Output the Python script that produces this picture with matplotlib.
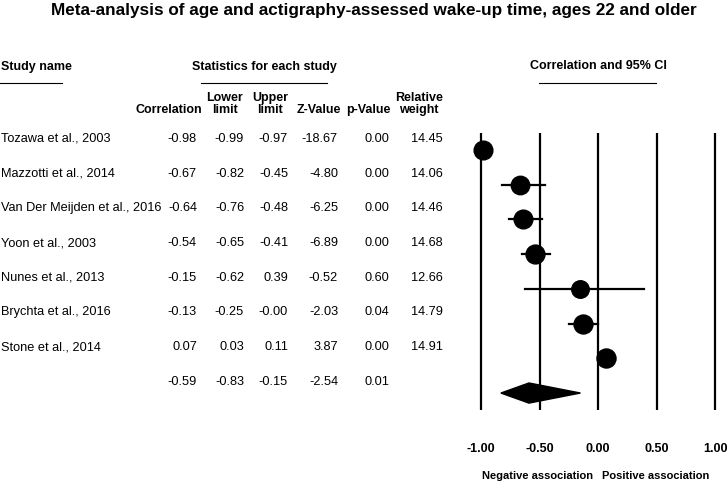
import matplotlib
matplotlib.use('Agg')
import matplotlib.pyplot as plt
from matplotlib.transforms import blended_transform_factory
from matplotlib.patches import Polygon
import numpy as np

plt.rcParams['font.family'] = ['Liberation Sans', 'DejaVu Sans']

# datos
studies = ['Tozawa et al., 2003', 'Mazzotti et al., 2014', 'Van Der Meijden et al., 2016',
           'Yoon et al., 2003', 'Nunes et al., 2013', 'Brychta et al., 2016', 'Stone et al., 2014']
corr = [-0.98, -0.67, -0.64, -0.54, -0.15, -0.13, 0.07]
lower = [-0.99, -0.82, -0.76, -0.65, -0.62, -0.25, 0.03]
upper = [-0.97, -0.45, -0.48, -0.41, 0.39, -0.00, 0.11]
zval = [-18.67, -4.80, -6.25, -6.89, -0.52, -2.03, 3.87]
pval = [0.00, 0.00, 0.00, 0.00, 0.60, 0.04, 0.00]
weight = [14.45, 14.06, 14.46, 14.68, 12.66, 14.79, 14.91]
summary = {'corr': -0.59, 'lower': -0.83, 'upper': -0.15, 'z': -2.54, 'p': 0.01}
ticks = [-1.0, -0.5, 0.0, 0.5, 1.0]

W, H = 727, 484
fig = plt.figure(figsize=(W / 100, H / 100), dpi=100)

def fx(px):
    return px / W

def fy(py):
    return 1 - py / H

# ejes del forest plot: x -1 -> 481px, 1 -> 715px ; filas 0..7 -> 150..393px
x0, x1 = 481, 715
ppu = (x1 - x0) / 2
left_px = x0 - 0.1 * ppu
right_px = x1 + 0.1 * ppu
top_px, bot_px = 132.6, 410.4
ax = fig.add_axes([fx(left_px), fy(bot_px), fx(right_px - left_px), (bot_px - top_px) / H])
ax.set_xlim(-1.1, 1.1)
ax.set_ylim(7.5, -0.5)
ax.axis('off')

for t in ticks:
    ax.axvline(t, color='black', lw=1.6, zorder=1)

n = len(studies)
rows = np.arange(n)
for i in range(n):
    ax.plot([lower[i], upper[i]], [rows[i], rows[i]], color='black', lw=1.6, zorder=2)
    ms = 13.7 * np.sqrt(weight[i] / max(weight))
    ax.plot(corr[i], rows[i], 'o', color='black', ms=ms, zorder=3)

dy = 0.29
diamond = Polygon([[summary['lower'], n], [summary['corr'], n - dy],
                   [summary['upper'], n], [summary['corr'], n + dy]],
                  closed=True, color='black', zorder=3)
ax.add_patch(diamond)

# textos de la tabla
tr = blended_transform_factory(fig.transFigure, ax.transData)
off = 0.32
fs = 9.2
col_x = [197, 244, 288, 338, 389, 443]
for i in range(n):
    y = rows[i] - off
    fig.text(fx(1), y, studies[i], transform=tr, fontsize=fs, va='center', ha='left')
    vals = [f'{corr[i]:.2f}', f'{lower[i]:.2f}', f'{upper[i]:.2f}', f'{zval[i]:.2f}',
            f'{pval[i]:.2f}', f'{weight[i]:.2f}']
    for cx, v in zip(col_x, vals):
        fig.text(fx(cx), y, v, transform=tr, fontsize=fs, va='center', ha='right')
svals = [summary['corr'], summary['lower'], summary['upper'], summary['z'], summary['p']]
for cx, v in zip(col_x[:5], svals):
    fig.text(fx(cx), n - off, f'{v:.2f}', transform=tr, fontsize=fs, va='center', ha='right')

# titulo y encabezados
fig.text(fx(373.5), fy(10), 'Meta-analysis of age and actigraphy-assessed wake-up time, ages 22 and older',
         fontsize=12.3, fontweight='bold', ha='center', va='center')
fig.text(fx(1), fy(67), 'Study name', fontsize=9, fontweight='bold', ha='left', va='center')
fig.text(fx(264), fy(67), 'Statistics for each study', fontsize=9, fontweight='bold', ha='center', va='center')
fig.text(fx(598), fy(66), 'Correlation and 95% CI', fontsize=9, fontweight='bold', ha='center', va='center')
for xa, xb in [(0, 62), (201, 327), (539, 656)]:
    fig.add_artist(plt.Line2D([fx(xa), fx(xb)], [fy(83), fy(83)], color='black', lw=0.8))

hdrs = ['Correlation', 'Lower\nlimit', 'Upper\nlimit', 'Z-Value', 'p-Value', 'Relative\nweight']
hdr_x = [202, 243, 288, 341, 391, 443]
for hx, h in zip(hdr_x, hdrs):
    fig.text(fx(hx), fy(116), h, fontsize=9, fontweight='bold', ha='right', va='bottom',
             multialignment='center', linespacing=1.0)

# etiquetas del eje x
for t in ticks:
    fig.text(fx(x0 + (t + 1) * ppu), fy(449), f'{t:.2f}', fontsize=9, fontweight='bold',
             ha='center', va='center')
zero_px = x0 + ppu
fig.text(fx(zero_px - 5), fy(476), 'Negative association', fontsize=8, fontweight='bold', ha='right', va='center')
fig.text(fx(zero_px + 4), fy(476), 'Positive association', fontsize=8, fontweight='bold', ha='left', va='center')

fig.savefig('out.png', dpi=100)
